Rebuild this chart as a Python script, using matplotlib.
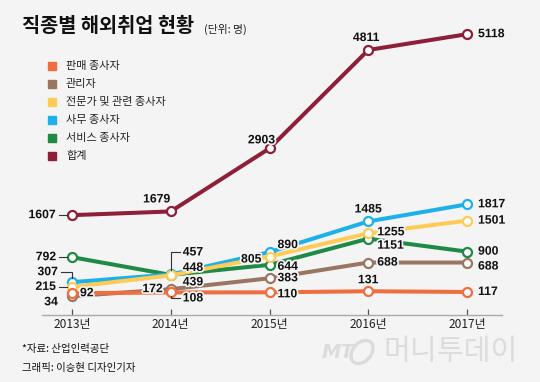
import matplotlib
matplotlib.use("Agg")
import matplotlib.pyplot as plt
import matplotlib.patheffects as pe
from matplotlib.lines import Line2D
from matplotlib.patches import Rectangle, Ellipse
from matplotlib.transforms import IdentityTransform

years = ["2013년", "2014년", "2015년", "2016년", "2017년"]

names = ["판매 종사자", "관리자", "전문가 및 관련 종사자", "사무 종사자", "서비스 종사자", "합계"]
sales = [92, 108, 110, 131, 117]
manager = [34, 172, 383, 688, 688]
expert = [215, 439, 805, 1255, 1501]
office = [307, 457, 890, 1485, 1817]
service = [792, 448, 644, 1151, 900]
total = [1607, 1679, 2903, 4811, 5118]

series = [sales, manager, expert, office, service, total]
colors = ["#EE6E3F", "#9A7662", "#FFCB57", "#1EB1E9", "#1F8A45", "#8E1F38"]
zorders = [7, 6, 5, 4, 3, 8]

# label offsets in pixels (dx, dy, ha) per series per year
offsets = [
    [(8, 0, "left"), (12, -6, "left"), (8, -2, "left"), (0, 11, "center"), (11, 0, "left")],
    [(-14, -6, "right"), (-8, 0, "right"), (8, 0, "left"), (9, 0, "left"), (11, -4, "left")],
    [(-16, 0, "right"), (12, -7, "left"), (-8, -3, "right"), (9, 1, "left"), (11, 0, "left")],
    [(-14, 10, "right"), (12, 22, "left"), (8, 7, "left"), (0, 12, "center"), (11, 0, "left")],
    [(-16, 0, "right"), (12, 7, "left"), (8, -2, "left"), (9, -7, "left"), (11, 0, "left")],
    [(-16, 0, "right"), (-14, 12, "center"), (-8, 8, "center"), (-2, 12, "center"), (11, 0, "left")],
]
# leader lines: (series index, year index, pixel vertices relative to point)
leaders = [
    (5, 0, [(-13, 0), (-5, 0)]),
    (4, 0, [(-13, 0), (-5, 0)]),
    (2, 0, [(-13, 0), (-5, 0)]),
    (3, 0, [(-11, 10), (0, 10), (0, 4)]),
    (3, 1, [(0, 4), (0, 22), (9, 22)]),
    (0, 1, [(0, -4), (0, -6), (9, -6)]),
]

BG = "#F4F4F4"
KR = ["Noto Sans CJK KR", "DejaVu Sans"]
NUM = ["Liberation Sans Narrow", "Liberation Sans", "DejaVu Sans"]

fig = plt.figure(figsize=(5.4, 3.82), dpi=100, facecolor=BG)
W, H = 540, 382
ax = fig.add_axes([42 / W, 67 / H, 460 / W, 300 / H])
ax.set_facecolor(BG)

x = list(range(len(years)))
for vals, c, z in zip(series, colors, zorders):
    ax.plot(x, vals, color=c, lw=2.9, marker="o", ms=6.5, mfc="white",
            mec=c, mew=1.6, zorder=z, solid_capstyle="round", clip_on=False)

ax.set_xlim(-0.3038, 4.354)
ax.set_ylim(-329.8, 5490)
ax.set_yticks([])
ax.set_xticks(x)
ax.set_xticklabels(years, family=KR, fontsize=8.6, color="#222222")
ax.tick_params(axis="x", direction="in", length=4, width=0.9, color="#555555", pad=2)
for s in ["top", "right", "left"]:
    ax.spines[s].set_visible(False)
ax.spines["bottom"].set_color("#AAAAAA")
ax.spines["bottom"].set_linewidth(1.0)

halo = [pe.withStroke(linewidth=2.5, foreground=BG)]
for vals, offs in zip(series, offsets):
    for i, (v, (dx, dy, ha)) in enumerate(zip(vals, offs)):
        ax.annotate(str(v), (i, v), xytext=(dx, dy), textcoords="offset pixels",
                    ha=ha, va="center", fontsize=8.8, fontweight="bold",
                    family=NUM, color="#111111", zorder=10, path_effects=halo,
                    annotation_clip=False)

fig.canvas.draw()
for si, yi, verts in leaders:
    px, py = ax.transData.transform((yi, series[si][yi]))
    line = Line2D([px + a for a, b in verts], [py + b for a, b in verts],
                  transform=IdentityTransform(), color="#333333", lw=0.8)
    fig.add_artist(line)

# legend
for k, (name, c) in enumerate(zip(names, colors)):
    yy = 66 + k * 18
    fig.patches.append(Rectangle((48 / W, 1 - (yy + 4) / H), 8 / W, 8 / H,
                                 transform=fig.transFigure, color=c))
    fig.text(66 / W, 1 - yy / H, name, family=KR, fontsize=8,
             color="#222222", va="center", ha="left")

# title
fig.text(22 / W, 1 - 26 / H, "직종별 해외취업 현황", family=KR, fontsize=14.2,
         fontweight="bold", color="#111111", va="center", ha="left")
fig.text(204 / W, 1 - 29 / H, "(단위: 명)", family=KR, fontsize=7.8,
         color="#222222", va="center", ha="left")

# footer
fig.text(22 / W, 1 - 349 / H, "*자료: 산업인력공단", family=KR, fontsize=7.5,
         color="#111111", va="center", ha="left")
fig.text(22 / W, 1 - 368 / H, "그래픽: 이승현 디자인기자", family=KR, fontsize=7.5,
         color="#111111", va="center", ha="left")

# watermark
fig.text(322 / W, 1 - 352 / H, "MT", family=["DejaVu Sans"], fontsize=14,
         style="italic", fontweight="bold", color="#DCDCDC", va="center", ha="left")
fig.patches.append(Ellipse((362 / W, 1 - 352 / H), 20 / W, 24 / H, angle=-20,
                           transform=fig.transFigure, fill=False,
                           edgecolor="#DCDCDC", lw=2.5))
fig.text(384 / W, 1 - 352 / H, "머니투데이", family=KR, fontsize=21,
         fontweight="light", color="#DCDCDC", va="center", ha="left")

fig.savefig("out.png", dpi=100, facecolor=BG)
